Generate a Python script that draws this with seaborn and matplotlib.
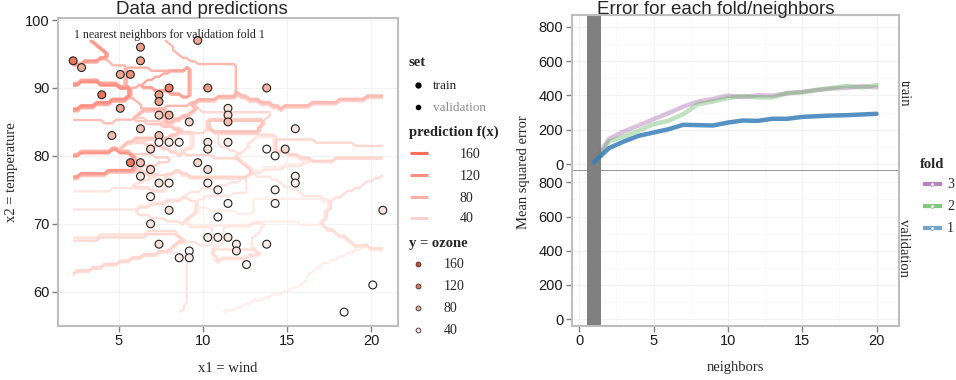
import numpy as np
import pandas as pd
import matplotlib
matplotlib.use('Agg')
import matplotlib.pyplot as plt
import matplotlib.colors as mcolors
import seaborn as sns

sns.set_style('white')
plt.rcParams['font.family'] = ['Liberation Sans', 'DejaVu Sans']
SERIF = ['Liberation Serif', 'DejaVu Serif']

# training points of fold 1 (airquality: wind, temperature, ozone)
wind = [2.3, 2.8, 6.3, 6.3, 9.7, 5.1, 5.7, 4.0, 7.4, 7.4, 8.0, 10.3, 13.8, 5.1,
        11.5, 11.5, 11.5, 7.4, 8.0, 9.2, 6.3, 15.5, 4.6, 7.4, 7.4, 8.0, 8.6, 10.3,
        10.3, 11.5, 6.9, 13.8, 14.3, 14.9, 5.7, 6.3, 9.7, 6.3, 6.9, 10.3, 15.5, 15.5,
        7.4, 8.0, 10.3, 10.9, 14.3, 6.9, 8.0, 11.5, 14.3, 20.7, 10.9, 6.9, 7.4, 10.3,
        10.9, 11.5, 12.0, 12.0, 13.8, 9.2, 9.2, 8.6, 12.6, 20.1, 18.4]
temp = [94, 93, 96, 94, 97, 92, 92, 89, 89, 88, 90, 90, 90, 87,
        87, 86, 85, 86, 86, 85, 84, 84, 83, 83, 82, 82, 82, 82,
        81, 82, 81, 81, 80, 81, 79, 79, 79, 77, 78, 78, 77, 76,
        76, 76, 76, 75, 75, 74, 72, 73, 73, 72, 71, 70, 67, 68,
        68, 68, 67, 66, 67, 66, 65, 65, 64, 61, 57]
ozone = [118, 73, 84, 85, 76, 78, 97, 122, 85, 82, 110, 89, 71, 79,
         39, 44, 63, 50, 73, 49, 61, 32, 64, 64, 16, 23, 20, 35,
         36, 30, 48, 9, 7, 45, 115, 59, 45, 28, 46, 44, 21, 21,
         37, 18, 13, 21, 14, 16, 36, 12, 10, 37, 9, 30, 41, 24,
         14, 30, 23, 34, 18, 11, 20, 23, 13, 8, 6]

# train error (mean squared error) for each fold / number of neighbors
neighbors = list(range(1, 21))
mse_fold1 = [10, 93, 132, 165, 184, 203, 229, 227, 225, 242,
             254, 252, 264, 264, 275, 279, 283, 285, 289, 293]
mse_fold2 = [10, 132, 161, 194, 233, 252, 291, 349, 364, 384,
             397, 388, 388, 413, 417, 432, 444, 455, 446, 461]
mse_fold3 = [10, 147, 190, 225, 262, 297, 335, 364, 380, 399,
             390, 401, 399, 413, 421, 432, 440, 444, 453, 446]

pts = pd.DataFrame({'wind': wind, 'temp': temp, 'ozone': ozone})

# 1 nearest neighbor prediction surface from the training points
gx = np.linspace(min(wind), max(wind), 80)
gy = np.linspace(min(temp), max(temp), 85)
GX, GY = np.meshgrid(gx, gy)
d2 = (GX[..., None] - pts['wind'].values) ** 2 + (GY[..., None] - pts['temp'].values) ** 2
pred = pts['ozone'].values[np.argmin(d2, axis=-1)]

line_cmap = mcolors.LinearSegmentedColormap.from_list('pl', ['#FFF4F0', '#FF6250'])
line_norm = mcolors.Normalize(0, 172)
fill_cmap = mcolors.LinearSegmentedColormap.from_list(
    'oz', [(0, '#FFFFFF'), (40 / 170, '#F6E0D8'), (80 / 170, '#EFA48E'),
           (120 / 170, '#EB7358'), (1, '#DD3A24')])
fill_norm = mcolors.Normalize(0, 170)

fig = plt.figure(figsize=(9.56, 3.8), dpi=100)
FR = '#BEBEBE'


def frame(ax):
    for s in ax.spines.values():
        s.set_color(FR)
        s.set_linewidth(1.5)
    ax.tick_params(axis='both', direction='out', length=4, width=1, color='#7F7F7F',
                   labelsize=10.5, labelcolor='#1A1A1A', pad=2, bottom=True, left=True)
    ax.grid(True, color='#F0F0F0', lw=0.6)
    ax.set_axisbelow(True)
    ax.set_xlabel('')
    ax.set_ylabel('')


# ---- left: data and predictions
ax = fig.add_axes([58 / 956, 1 - 325.7 / 380, 340 / 956, 307.7 / 380])
ax.contour(GX, GY, pred, levels=np.arange(10, 171, 10), cmap=line_cmap, norm=line_norm,
           linewidths=1.7, alpha=0.9)
sns.scatterplot(data=pts, x='wind', y='temp', hue='ozone', palette=fill_cmap,
                hue_norm=fill_norm, s=32, edgecolor='#222222', linewidth=0.8,
                legend=False, zorder=3, ax=ax)
ax.set_xlim(1.4, 21.6)
ax.set_ylim(55.0, 100.3)
ax.set_xticks([5, 10, 15, 20])
ax.set_yticks([60, 70, 80, 90, 100])
frame(ax)
ax.text(0.047, 0.965, '1 nearest neighbors for validation fold 1', transform=ax.transAxes,
        family=SERIF, fontsize=8.6, va='top', ha='left')

# ---- right: error for each fold/neighbors
folds = pd.DataFrame({
    'neighbors': neighbors * 3,
    'mse': mse_fold1 + mse_fold2 + mse_fold3,
    'fold': ['1'] * 20 + ['2'] * 20 + ['3'] * 20,
})
fold_colors = {'1': '#377EB8', '2': '#4DAF4A', '3': '#984EA3'}
fold_alpha = {'1': 0.85, '2': 0.35, '3': 0.35}

ax_tr = fig.add_axes([571.7 / 956, 1 - 170.7 / 380, 327.3 / 956, 155.4 / 380])
ax_va = fig.add_axes([571.7 / 956, 1 - 325.7 / 380, 327.3 / 956, 154.7 / 380])
for a in (ax_tr, ax_va):
    a.axvspan(0.5, 1.5, color='#808080', lw=0, zorder=1)
for f in ['3', '2', '1']:
    sns.lineplot(data=folds[folds['fold'] == f], x='neighbors', y='mse',
                 color=fold_colors[f], alpha=fold_alpha[f], lw=3.2, ax=ax_tr, zorder=3)
for a in (ax_tr, ax_va):
    a.set_xlim(-0.5, 21.5)
    a.set_ylim(-38, 866)
    a.set_xticks([0, 5, 10, 15, 20])
    a.set_yticks([0, 200, 400, 600, 800])
    a.set_xticks([2.5, 7.5, 12.5, 17.5], minor=True)
    a.set_yticks([100, 300, 500, 700], minor=True)
    frame(a)
    a.grid(True, which='minor', color='#F7F7F7', lw=0.5)
    a.tick_params(which='minor', length=0)
ax_tr.tick_params(axis='x', length=0, labelbottom=False)
ax_tr.spines['bottom'].set_color('#7F7F7F')
ax_tr.spines['bottom'].set_linewidth(1.2)
ax_va.spines['top'].set_visible(False)

# ---- overlay for titles, labels and legends (pixel coordinates)
ov = fig.add_axes([0, 0, 1, 1])
ov.set_xlim(0, 956)
ov.set_ylim(380, 0)
ov.axis('off')

ov.text(202, 10, 'Data and predictions', ha='center', va='center', fontsize=13.5)
ov.text(716, 10, 'Error for each fold/neighbors', ha='center', va='center', fontsize=13.5)
ov.text(228, 368, 'x1 = wind', ha='center', va='center', family=SERIF, fontsize=10.5)
ov.text(12, 172, 'x2 = temperature', ha='center', va='center', rotation=90,
        family=SERIF, fontsize=10.5)
ov.text(735, 368, 'neighbors', ha='center', va='center', family=SERIF, fontsize=10.5)
ov.text(524, 172, 'Mean squared error', ha='center', va='center', rotation=90,
        family=SERIF, fontsize=10.5)
ov.text(904, 93, 'train', ha='center', va='center', rotation=-90, family=SERIF, fontsize=10.5)
ov.text(904, 248, 'validation', ha='center', va='center', rotation=-90, family=SERIF,
        fontsize=10.5)

# left legends
ov.text(409, 63, 'set', ha='left', va='center', family=SERIF, fontsize=10.5, weight='bold')
ov.plot([418], [85], 'o', color='black', ms=3.5)
ov.text(433, 86, 'train', ha='left', va='center', family=SERIF, fontsize=9.5)
ov.plot([418], [107], 'o', color='black', ms=3)
ov.text(433, 108, 'validation', ha='left', va='center', family=SERIF, fontsize=9.5,
        color='#8C8C8C')
ov.text(409, 132, 'prediction f(x)', ha='left', va='center', family=SERIF, fontsize=10.5,
        weight='bold')
for lv, yy in zip([160, 120, 80, 40], [153, 175, 197, 218]):
    ov.plot([410, 428], [yy, yy], color=line_cmap(line_norm(lv)), lw=2.2,
            solid_capstyle='butt')
    ov.text(460, yy + 1, str(lv), ha='left', va='center', family=SERIF, fontsize=10)
ov.text(409, 244, 'y = ozone', ha='left', va='center', family=SERIF, fontsize=10.5,
        weight='bold')
for lv, yy in zip([160, 120, 80, 40], [264, 286, 308, 330]):
    ov.plot([418], [yy], 'o', color=fill_cmap(fill_norm(lv)), mec='#333333', mew=0.6, ms=3.5)
    ov.text(444, yy + 1, str(lv), ha='left', va='center', family=SERIF, fontsize=10)

# fold legend
ov.text(920, 164, 'fold', ha='left', va='center', family=SERIF, fontsize=10.5, weight='bold')
for f, yy in zip(['3', '2', '1'], [184, 206, 228]):
    c = mcolors.to_rgb(fold_colors[f])
    c = tuple(1 - 0.7 * (1 - v) for v in c)
    ov.plot([923, 942], [yy, yy], color=c, lw=3, solid_capstyle='butt')
    ov.plot([932.5], [yy], 'o', color='white', mec=c, mew=0.6, ms=2.6)
    ov.text(947, yy + 1, f, ha='left', va='center', family=SERIF, fontsize=10)

fig.savefig('out.png', dpi=100)
